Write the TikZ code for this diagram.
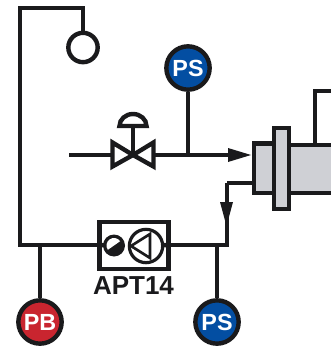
\documentclass[tikz,border=0pt]{standalone}
\usepackage{fontspec}
\setmainfont{Liberation Sans}
\usetikzlibrary{arrows.meta}
\definecolor{ink}{HTML}{1A1A1C}
\definecolor{bodygray}{HTML}{CFD0D5}
\definecolor{psblue}{HTML}{034EA2}
\definecolor{pbred}{HTML}{C9252F}
\tikzset{x=0.75pt,y=-0.75pt,
 pipe/.style={draw=ink,line width=3.3pt,line join=miter},
 thin pipe/.style={draw=ink,line width=2.8pt},
 gauge/.style={circle,draw=ink,line width=3.3pt,minimum size=32.5pt,inner sep=0pt,text=white,font=\bfseries\fontsize{17.5}{17.5}\selectfont},
 part/.style={draw=ink,line width=3.3pt,fill=bodygray}}
\begin{document}
\begin{tikzpicture}
\useasboundingbox (0,0) rectangle (331,349);
% named points
\coordinate (tl) at (20,8);
\coordinate (tr) at (83,8);
\coordinate (bl) at (20,245);
\coordinate (br) at (227,245);
\coordinate (in) at (69,155);
\coordinate (valve) at (133,155);
\coordinate (tee) at (188,155);
\coordinate (ret) at (227,183);
\node[circle,draw=ink,line width=3.3pt,minimum size=22pt,inner sep=0pt] (sw) at (83,47.5) {};
\node[gauge,fill=psblue] (ps1) at (188,68) {PS};
\node[gauge,fill=pbred] (pb) at (40,322) {PB};
\node[gauge,fill=psblue] (ps2) at (217,322) {PS};
% cylinder
\path[part] (289,145) rectangle (336,193);
\path[part] (254,143.5) rectangle (274,193);
\path[part] (274,128) rectangle (289,209);
\coordinate (topport) at (315,145);
\coordinate (topa) at (315,91);
\coordinate (topb) at (336,91);
\draw[pipe] (topport) -- (topa) -- (topb);
% pipes
\draw[pipe] (sw.north) -- (tr) -- (tl) -- (bl) -- (br) -- (ret);
\draw[pipe] (ret) -- (254,183);
\draw[pipe] (in) -- (230,155);
\draw[thin pipe] (ps1.south) -- (tee);
\draw[thin pipe] (pb.north) -- (40,245);
\draw[thin pipe] (ps2.north) -- (217,245);
\path[fill=ink] (228,148) -- (251,155) -- (228,162) -- cycle;
\path[fill=ink] (220,202) -- (233,202) -- (226.5,226) -- cycle;
% valve
\draw[pipe,fill=white] (133,155) -- (112.5,142.5) -- (112.5,166.5) -- cycle;
\draw[pipe,fill=white] (133,155) -- (153.5,142.5) -- (153.5,166.5) -- cycle;
\draw[pipe] (133,155) -- (133,125);
\draw[pipe,fill=white] (119.5,126) arc[start angle=180,end angle=360,x radius=13.5,y radius=12] -- cycle;
% pump
\node[draw=ink,line width=3.3pt,fill=white,minimum width=52pt,minimum height=35pt,inner sep=0pt] (box) at (134,245.5) {};
\draw[pipe] (box.west) -- (106,245);
\draw[pipe] (box.east) -- (162,245);
\node[circle,fill=ink,minimum size=16.5pt,inner sep=0pt] (motor) at (114,245.5) {};
\path[fill=white] (114,245.5) ++(145:7.5) arc[start angle=145,end angle=325,radius=7.5] -- cycle;
\node[circle,draw=ink,line width=2.4pt,fill=white,minimum size=25pt,inner sep=0pt] (pump) at (146,246) {};
\draw[draw=ink,line width=2pt,line join=miter] (131,246) -- (150,234) -- (150,258) -- cycle;
\node[font=\bfseries\fontsize{19.5}{19.5}\selectfont,text=ink,inner sep=0pt] (lab) at (133.5,285.5) {APT14};
\end{tikzpicture}
\end{document}
